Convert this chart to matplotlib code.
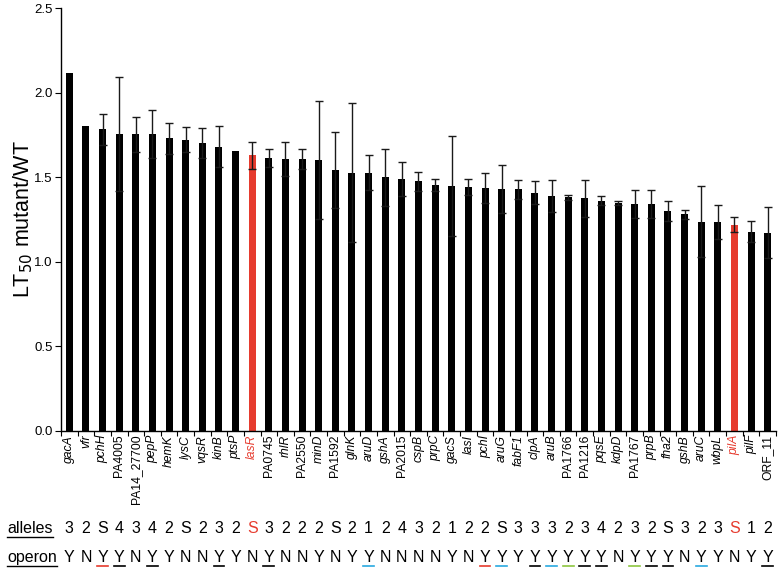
import matplotlib
matplotlib.use("Agg")
import matplotlib.pyplot as plt
import matplotlib.transforms as mtransforms
from matplotlib.lines import Line2D
import numpy as np

plt.rcParams['font.family'] = ['Liberation Sans', 'DejaVu Sans']

genes = ["gacA", "vfr", "pchH", "PA4005", "PA14_27700", "pepP", "hemK", "lysC", "vqsR", "kinB",
         "ptsP", "lasR", "PA0745", "rhlR", "PA2550", "minD", "PA1592", "glnK", "aruD", "gshA",
         "PA2015", "cspB", "prpC", "gacS", "lasI", "pchI", "aruG", "fabF1", "clpA", "aruB",
         "PA1766", "PA1216", "pqsE", "kdpD", "PA1767", "prpB", "fha2", "gshB", "aruC", "wbpL",
         "pilA", "pilF", "ORF_11"]
values = [2.12, 1.806, 1.783, 1.755, 1.755, 1.755, 1.730, 1.722, 1.702, 1.682,
          1.653, 1.629, 1.614, 1.608, 1.608, 1.602, 1.542, 1.528, 1.528, 1.501,
          1.489, 1.475, 1.453, 1.448, 1.442, 1.434, 1.428, 1.428, 1.408, 1.389,
          1.381, 1.375, 1.361, 1.347, 1.341, 1.341, 1.302, 1.280, 1.238, 1.233,
          1.219, 1.178, 1.172]
errors = [0.0, 0.0, 0.094, 0.338, 0.103, 0.142, 0.094, 0.075, 0.089, 0.123,
          0.0, 0.081, 0.056, 0.102, 0.062, 0.351, 0.223, 0.411, 0.103, 0.169,
          0.101, 0.056, 0.036, 0.296, 0.047, 0.089, 0.142, 0.055, 0.067, 0.094,
          0.014, 0.108, 0.028, 0.014, 0.081, 0.081, 0.059, 0.028, 0.210, 0.100,
          0.043, 0.063, 0.152]
highlight = ["lasR", "pilA"]
roman_labels = ["PA4005", "PA14_27700", "PA0745", "PA2550", "PA1592", "PA2015",
                "PA1766", "PA1216", "PA1767", "ORF_11"]
alleles = ["3", "2", "S", "4", "3", "4", "2", "S", "2", "3", "2", "S", "3", "2", "2", "2", "S",
           "2", "1", "2", "4", "3", "2", "1", "2", "2", "S", "3", "3", "3", "2", "3", "4", "2",
           "3", "2", "S", "3", "2", "3", "S", "1", "2"]
operon = ["Y", "N", "Y", "Y", "N", "Y", "Y", "N", "N", "Y", "Y", "N", "Y", "N", "N", "Y", "N",
          "Y", "Y", "N", "N", "N", "N", "Y", "N", "Y", "Y", "Y", "Y", "Y", "Y", "Y", "Y", "N",
          "Y", "Y", "Y", "N", "Y", "Y", "N", "Y", "Y"]
# underline colour per operon letter ("" = no underline)
operon_ul = ["", "", "red", "k", "", "k", "", "", "", "k", "", "", "k", "", "", "", "", "",
             "blue", "", "", "", "", "", "", "red", "blue", "", "k", "blue", "green", "k", "k",
             "", "green", "k", "k", "", "blue", "", "", "", "k"]

RED = "#E63B2E"
BLUE = "#29A9E0"
GREEN = "#8DC63F"
cmap = {"red": RED, "blue": BLUE, "green": GREEN, "k": "black"}

W, H = 782, 569
fig = plt.figure(figsize=(W / 100, H / 100), dpi=100)
ax = fig.add_axes([61 / W, 138.3 / H, (776 - 61) / W, (560.7 - 138.3) / H])

x = np.arange(len(genes))
colors = [RED if g in highlight else "black" for g in genes]
ax.bar(x, values, width=0.42, color=colors, zorder=2)
ex = [i for i in x if errors[i] > 0]
ax.errorbar(ex, [values[i] for i in ex], yerr=[errors[i] for i in ex], fmt="none",
            ecolor="#1a1a1a", elinewidth=1.0, capsize=2.6, capthick=1.0, zorder=3)

ax.set_xlim(-0.5, len(genes) - 0.5)
ax.set_ylim(0, 2.5)
ax.set_yticks([0, 0.5, 1.0, 1.5, 2.0, 2.5])
ax.set_yticklabels(["0.0", "0.5", "1.0", "1.5", "2.0", "2.5"], fontsize=9.5)
ax.set_xticks(x)
ax.set_xticklabels(genes, rotation=90, fontsize=8.7)
ax.set_xticks(np.arange(-0.5, len(genes), 1.0), minor=True)
ax.tick_params(axis="x", which="major", length=0, pad=3)
ax.tick_params(axis="x", which="minor", length=3.5, width=0.8, direction="out")
ax.tick_params(axis="y", length=4, width=0.8, direction="out", pad=2)
for lab, g in zip(ax.get_xticklabels(), genes):
    if g not in roman_labels:
        lab.set_style("italic")
    if g in highlight:
        lab.set_color(RED)
for s in ["top", "right"]:
    ax.spines[s].set_visible(False)
for s in ["left", "bottom"]:
    ax.spines[s].set_linewidth(1.0)

ax.set_ylabel("LT$_{50}$ mutant/WT", fontsize=15.5)
ax.yaxis.set_label_coords(-(61 - 23) / (776 - 61), 0.5)
ax.yaxis.label.set_va("center")

# bottom rows
trans = mtransforms.blended_transform_factory(ax.transData, fig.transFigure)
y_all = 1 - 533.3 / H
y_op = 1 - 562.3 / H
fs_row = 11.5
t_all = fig.text(7 / W, y_all, "alleles", fontsize=fs_row, ha="left", va="baseline")
t_op = fig.text(7 / W, y_op, "operon", fontsize=fs_row, ha="left", va="baseline")
op_texts = []
for i in range(len(genes)):
    ax.text(i, y_all, alleles[i], transform=trans, fontsize=fs_row, ha="center",
            va="baseline", color=RED if genes[i] in highlight else "black", clip_on=False)
    t = ax.text(i, y_op, operon[i], transform=trans, fontsize=fs_row, ha="center",
                va="baseline", color="black", clip_on=False)
    op_texts.append((t, operon_ul[i]))

fig.canvas.draw()
r = fig.canvas.get_renderer()


def underline(t, ybase, color, off=3.5, lw=1.0):
    bb = t.get_window_extent(renderer=r)
    yy = ybase - off / H
    fig.add_artist(Line2D([bb.x0 / W, bb.x1 / W], [yy, yy], transform=fig.transFigure,
                          color=color, linewidth=lw))


underline(t_all, y_all, "black")
underline(t_op, y_op, "black")
for t, c in op_texts:
    if c:
        underline(t, y_op, cmap[c], off=3.8, lw=1.2)

fig.savefig("out.png", dpi=100)
